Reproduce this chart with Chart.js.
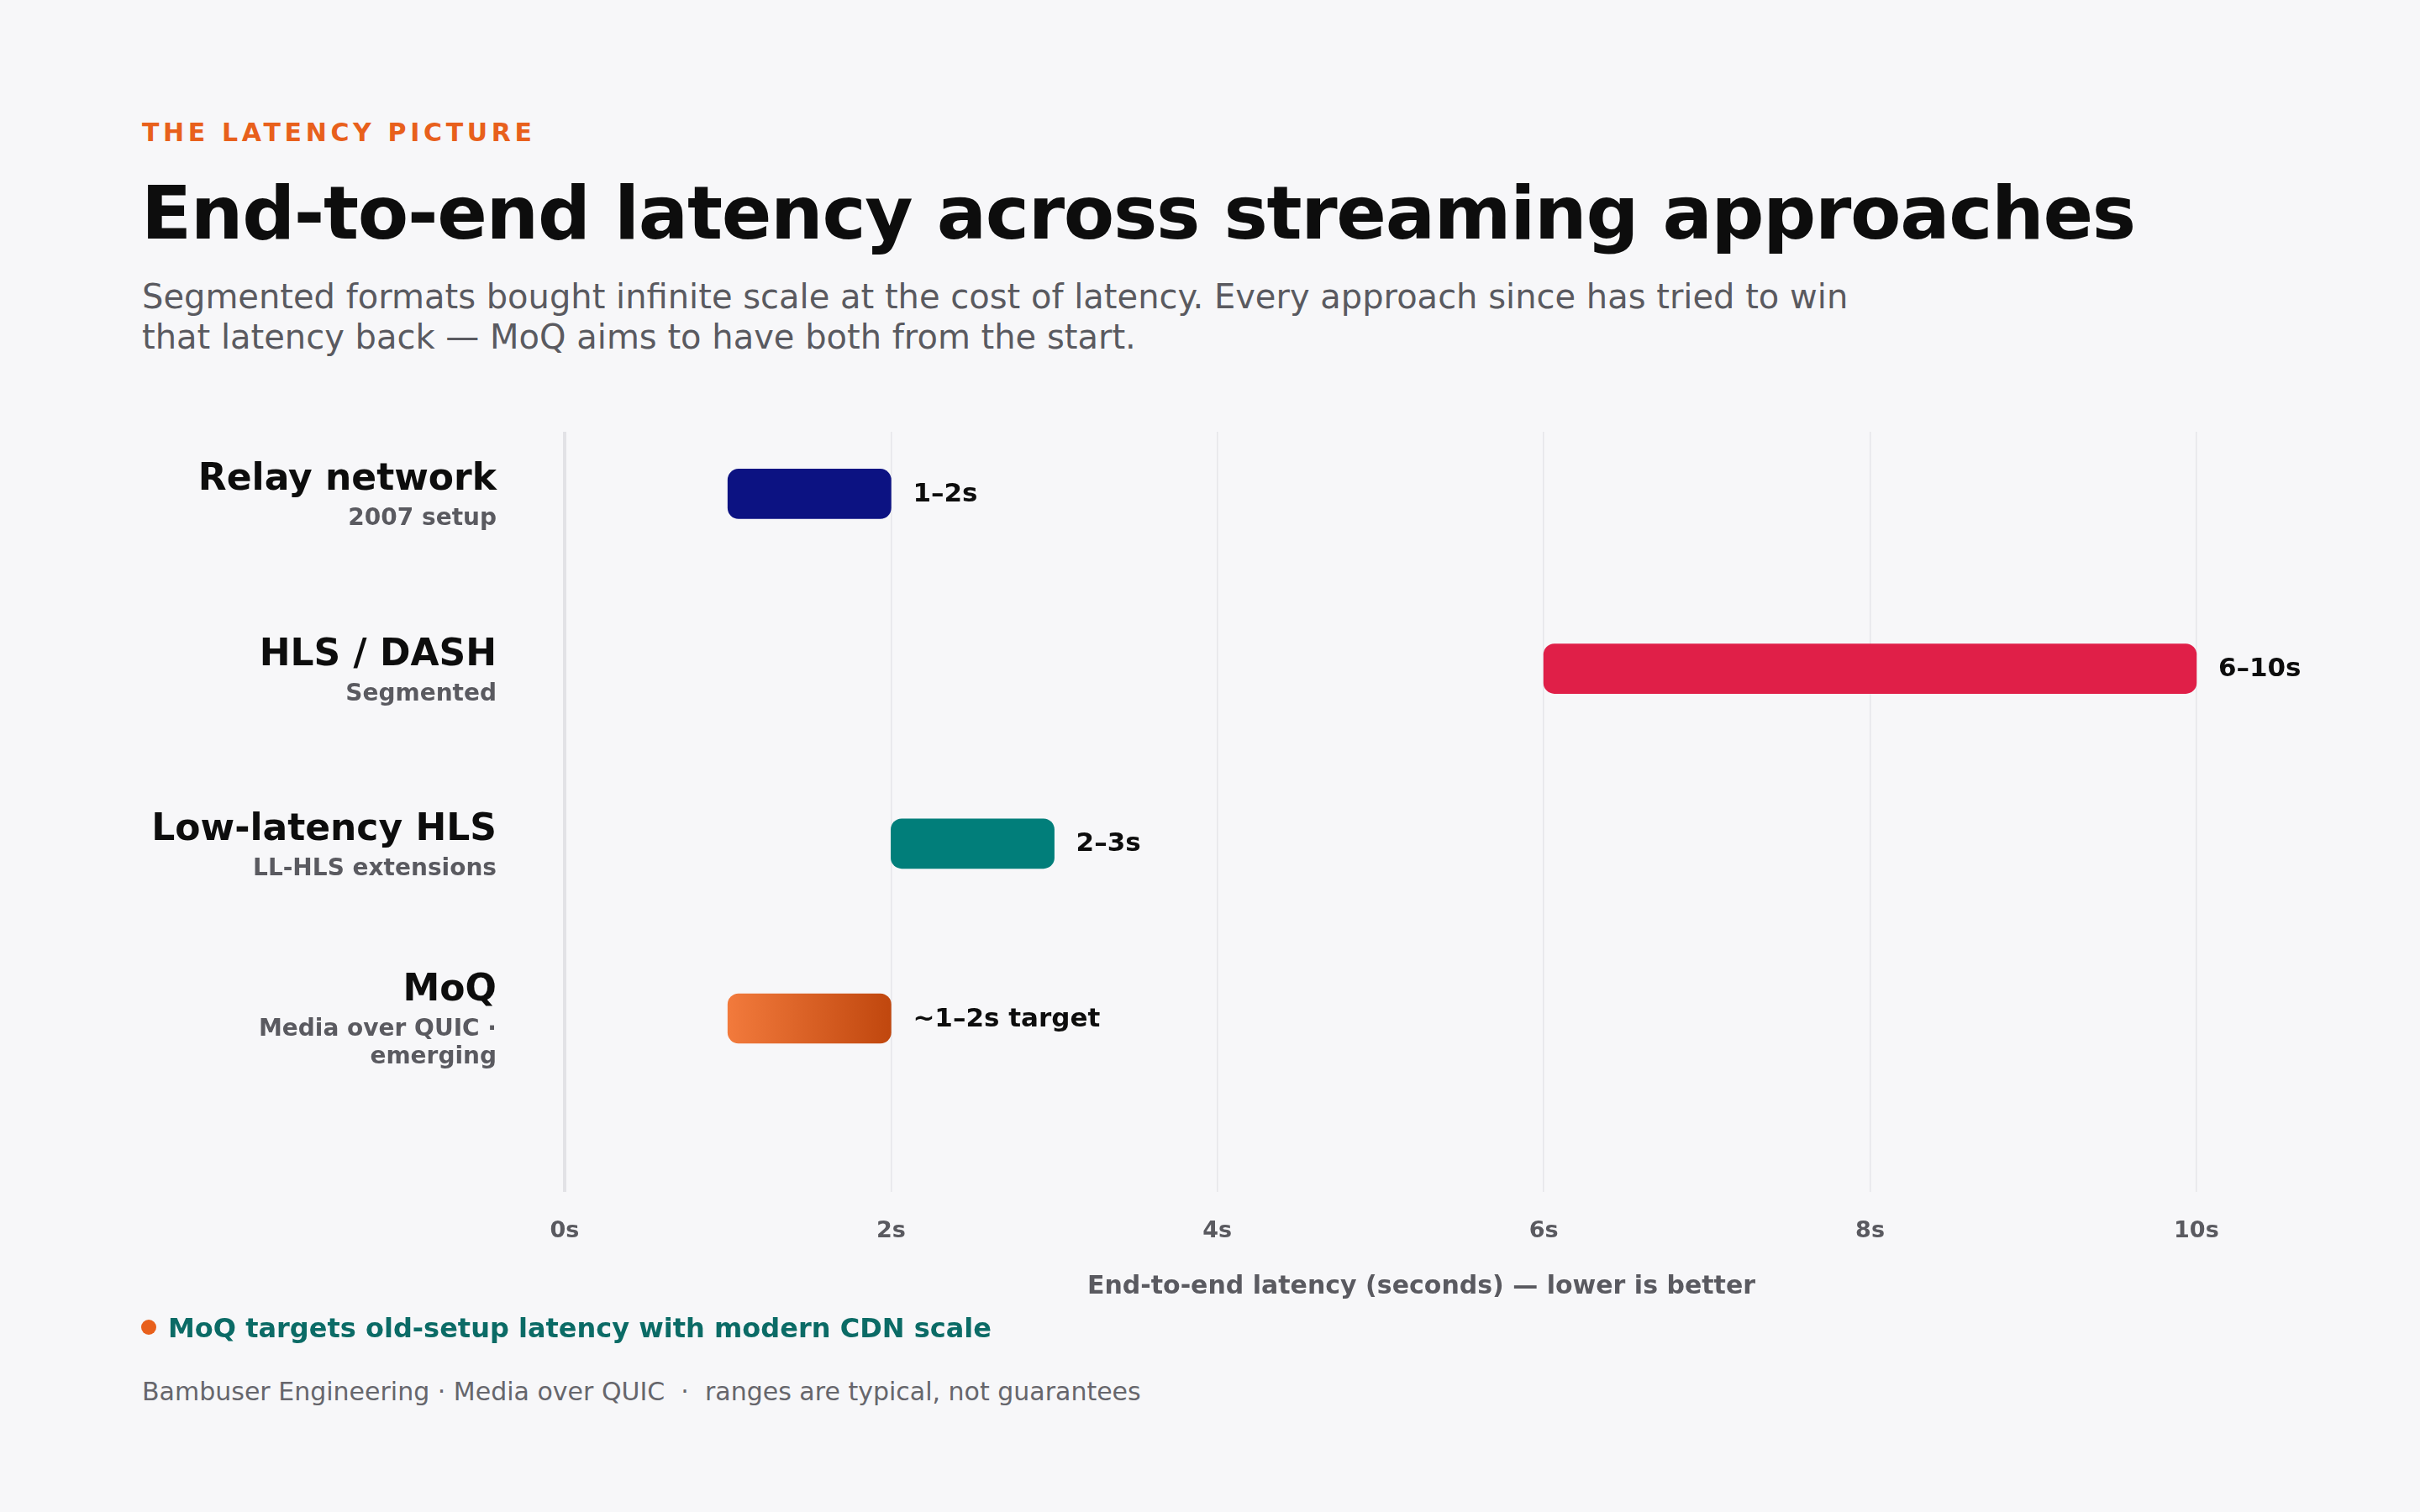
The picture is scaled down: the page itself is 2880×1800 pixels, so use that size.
<!DOCTYPE html>
<html>
<head>
<meta charset="utf-8">
<script src="https://cdn.jsdelivr.net/npm/chart.js@4.4.1/dist/chart.umd.min.js"></script>
<style>
  html, body { margin: 0; padding: 0; }
  body { width: 2880px; height: 1800px; background: #f7f7f9; position: relative; overflow: hidden; font-family: "DejaVu Sans", sans-serif; }
  .kicker { position: absolute; left: 169px; top: 143px; font-size: 30px; line-height: 1; font-weight: bold; letter-spacing: 0.155em; color: #e8601c; }
  .title { position: absolute; left: 168px; top: 210px; font-size: 88px; line-height: 1; font-weight: bold; letter-spacing: -1.3px; color: #0d0d0d; white-space: nowrap; }
  .sub { position: absolute; left: 169px; top: 329px; font-size: 40px; line-height: 48px; color: #5a5a60; white-space: nowrap; }
  #wrap { position: absolute; left: 0; top: 480px; width: 2880px; height: 1100px; }
  .note { position: absolute; left: 168px; top: 1565px; font-size: 32px; line-height: 1; font-weight: bold; color: #0b6b66; white-space: nowrap; }
  .note .dot { display: inline-block; width: 18px; height: 18px; border-radius: 50%; background: #e8601c; margin-right: 14px; vertical-align: 3px; }
  .source { position: absolute; left: 169px; top: 1642px; font-size: 30px; line-height: 1; color: #66666c; white-space: pre; }
</style>
</head>
<body>
<div class="kicker">THE LATENCY PICTURE</div>
<div class="title">End-to-end latency across streaming approaches</div>
<div class="sub">Segmented formats bought infinite scale at the cost of latency. Every approach since has tried to win<br>that latency back — MoQ aims to have both from the start.</div>
<div id="wrap"><canvas id="latencia" width="2880" height="1100"></canvas></div>
<div class="note"><span class="dot"></span>MoQ targets old-setup latency with modern CDN scale</div>
<div class="source">Bambuser Engineering · Media over QUIC  ·  ranges are typical, not guarantees</div>

<script>
"use strict";
// datos
const categorias = ["Relay network", "HLS / DASH", "Low-latency HLS", "MoQ"];
const subtitulos = [["2007 setup"], ["Segmented"], ["LL-HLS extensions"], ["Media over QUIC ·", "emerging"]];
const desde = [1, 6, 2, 1];
const hasta = [2, 10, 3, 2];
const etiquetas = ["1–2s", "6–10s", "2–3s", "~1–2s target"];
const ticksX = [0, 2, 4, 6, 8, 10];
const colores = ["#0c1282", "#e01f48", "#017e7a", null];

const FONT = "'DejaVu Sans', sans-serif";

// etiquetas de categoria a la izquierda + valores al final de cada barra
const etiquetasPlugin = {
  id: "etiquetas",
  afterDatasetsDraw(chart) {
    const ctx = chart.ctx;
    const y = chart.scales.y;
    const meta = chart.getDatasetMeta(0);
    ctx.save();
    categorias.forEach((cat, i) => {
      const cy = y.getPixelForValue(i);
      const subs = subtitulos[i];
      const blockH = 44 + subs.length * 33;
      let top = cy - blockH / 2;
      ctx.textAlign = "right";
      ctx.textBaseline = "alphabetic";
      ctx.fillStyle = "#0d0d0d";
      ctx.font = "bold 44px " + FONT;
      ctx.fillText(cat, 591, top + 34);
      ctx.fillStyle = "#5a5a60";
      ctx.font = "bold 28px " + FONT;
      subs.forEach((s, k) => ctx.fillText(s, 591, top + 76 + k * 33));

      const bar = meta.data[i];
      ctx.textAlign = "left";
      ctx.textBaseline = "middle";
      ctx.fillStyle = "#0d0d0d";
      ctx.font = "bold 31px " + FONT;
      ctx.fillText(etiquetas[i], bar.x + 26, bar.y + 1);
    });
    ctx.restore();
  }
};

function colorBarra(c) {
  const i = c.dataIndex;
  if (colores[i]) return colores[i];
  const ch = c.chart;
  if (!ch.chartArea) return "#e2672a";
  const x = ch.scales.x;
  const g = ch.ctx.createLinearGradient(x.getPixelForValue(desde[i]), 0, x.getPixelForValue(hasta[i]), 0);
  g.addColorStop(0, "#f27a3c");
  g.addColorStop(1, "#c0470e");
  return g;
}

new Chart(document.getElementById("latencia"), {
  type: "bar",
  data: {
    datasets: [{
      data: categorias.map((c, i) => ({ x: [desde[i], hasta[i]], y: i })),
      backgroundColor: colorBarra,
      borderRadius: 13,
      borderSkipped: false,
      barThickness: 59
    }]
  },
  options: {
    indexAxis: "y",
    responsive: false,
    devicePixelRatio: 1,
    animation: false,
    layout: { padding: { left: 672, right: 169, top: 34, bottom: 26 } },
    plugins: { legend: { display: false }, tooltip: { enabled: false } },
    scales: {
      y: {
        type: "linear",
        reverse: true,
        offset: false,
        min: -0.355,
        max: 3.99,
        ticks: { display: false },
        grid: { display: false, offset: false },
        border: { display: false },
        afterFit: s => { s.width = 0; }
      },
      x: {
        type: "linear",
        min: 0,
        max: 10.5,
        afterBuildTicks: s => { s.ticks = ticksX.map(v => ({ value: v })); },
        ticks: {
          padding: 31,
          color: "#5a5a60",
          font: { family: FONT, size: 27, weight: "bold" },
          callback: v => v + "s"
        },
        grid: {
          drawTicks: false,
          color: c => c.tick && c.tick.value === 0 ? "#e2e2e6" : "#e6e6ea",
          lineWidth: c => c.tick && c.tick.value === 0 ? 4 : 1.5
        },
        border: { display: false },
        title: {
          display: true,
          text: "End-to-end latency (seconds) — lower is better",
          color: "#5a5a60",
          font: { family: FONT, size: 30, weight: "bold" },
          padding: { top: 1, bottom: 4 }
        }
      }
    }
  },
  plugins: [etiquetasPlugin]
});
</script>
</body>
</html>
